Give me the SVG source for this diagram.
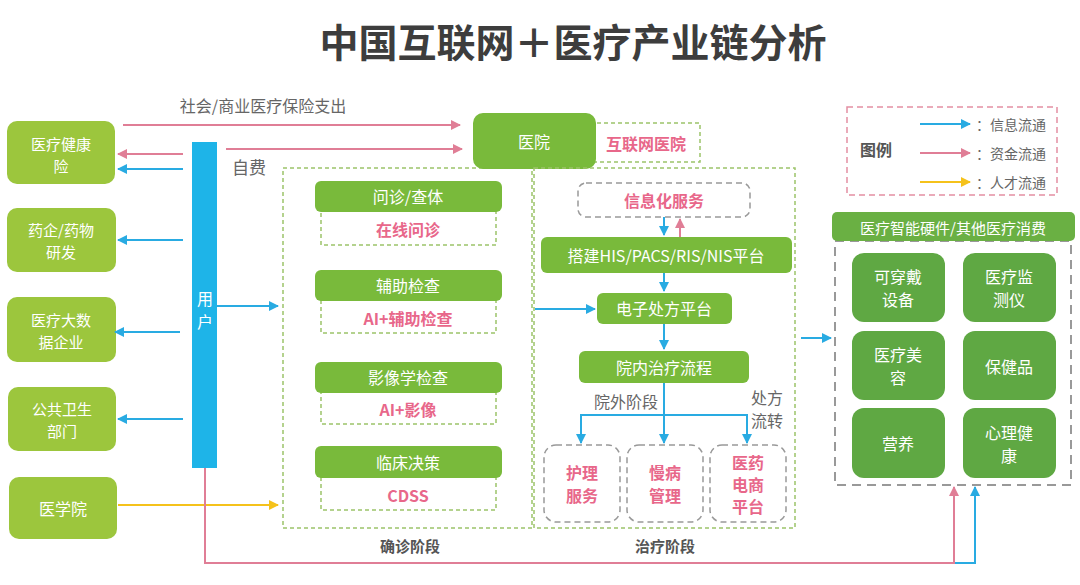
<svg xmlns="http://www.w3.org/2000/svg" width="1080" height="585" viewBox="0 0 1080 585">
<defs>
<style>
text{font-family:"Noto Sans CJK SC","Noto Sans",sans-serif;text-anchor:middle;dominant-baseline:central}
.title{font-size:39px;font-weight:bold;fill:#3d3d3d}
.lbox{fill:#9CC63D}
.mbox{fill:#79BA3B}
.rbox{fill:#5FA843}
.wt{fill:#fff;font-size:16px}
.ws{fill:#fff;font-size:15px}
.pk{fill:#E8678A;font-size:16px;font-weight:bold}
.gt{fill:#666;font-size:16px}
.gb{fill:#555;font-size:15px;font-weight:bold}
.dg{fill:none;stroke:#9CC46A;stroke-width:1.5;stroke-dasharray:4 3}
.dgray{fill:none;stroke:#999;stroke-width:2;stroke-dasharray:9 6}
.dgs{fill:none;stroke:#999;stroke-width:1.5;stroke-dasharray:6 4}
.dpink{fill:none;stroke:#E38FA3;stroke-width:1.5;stroke-dasharray:6 4}
.lb{fill:none;stroke:#29ABE2;stroke-width:2}
.lp{fill:none;stroke:#E07E96;stroke-width:2}
.ly{fill:none;stroke:#F5C21B;stroke-width:2}
</style>
<marker id="ab" viewBox="0 0 10 10" refX="9" refY="5" markerWidth="10" markerHeight="10" markerUnits="userSpaceOnUse" orient="auto"><path d="M0,0L10,5L0,10z" fill="#29ABE2"/></marker>
<marker id="ap" viewBox="0 0 10 10" refX="9" refY="5" markerWidth="10" markerHeight="10" markerUnits="userSpaceOnUse" orient="auto"><path d="M0,0L10,5L0,10z" fill="#E07E96"/></marker>
<marker id="ay" viewBox="0 0 10 10" refX="9" refY="5" markerWidth="10" markerHeight="10" markerUnits="userSpaceOnUse" orient="auto"><path d="M0,0L10,5L0,10z" fill="#F5C21B"/></marker>
</defs>
<rect width="1080" height="585" fill="#fff"/>
<text class="title" x="573" y="40">中国互联网＋医疗产业链分析</text>

<!-- left column -->
<g id="n-insurance"><rect class="lbox" x="7" y="121" width="108" height="63" rx="10"/><text class="ws" x="61" y="143">医疗健康</text><text class="ws" x="61" y="165">险</text></g>
<g id="n-pharma"><rect class="lbox" x="7" y="208" width="109" height="64" rx="10"/><text class="ws" x="61" y="229">药企/药物</text><text class="ws" x="61" y="251">研发</text></g>
<g id="n-bigdata"><rect class="lbox" x="7" y="297" width="109" height="65" rx="10"/><text class="ws" x="61" y="319">医疗大数</text><text class="ws" x="61" y="341">据企业</text></g>
<g id="n-public"><rect class="lbox" x="8" y="387" width="108" height="64" rx="10"/><text class="ws" x="62" y="408">公共卫生</text><text class="ws" x="62" y="430">部门</text></g>
<g id="n-school"><rect class="lbox" x="9" y="477" width="108" height="62" rx="10"/><text class="wt" x="63" y="508">医学院</text></g>

<g id="n-user"><rect x="192" y="142" width="25" height="326" fill="#1EB4E8"/><text class="wt" x="205" y="298">用</text><text class="wt" x="205" y="321">户</text></g>

<!-- diagnosis stage -->
<g id="n-diagnosis">
<rect class="dg" x="283" y="168" width="249" height="360"/>
<text class="gb" x="410" y="545">确诊阶段</text>
</g>
<g id="n-consult"><rect class="dg" x="321" y="210" width="175" height="35"/><rect class="mbox" x="315" y="181" width="187" height="31" rx="6"/><text class="wt" x="408" y="196">问诊/查体</text><text class="pk" x="408" y="229">在线问诊</text></g>
<g id="n-exam"><rect class="dg" x="321" y="299" width="175" height="34"/><rect class="mbox" x="315" y="270" width="187" height="31" rx="6"/><text class="wt" x="408" y="285">辅助检查</text><text class="pk" x="408" y="318">AI+辅助检查</text></g>
<g id="n-imaging"><rect class="dg" x="321" y="391" width="175" height="33"/><rect class="mbox" x="315" y="362" width="187" height="31" rx="6"/><text class="wt" x="408" y="377">影像学检查</text><text class="pk" x="408" y="409">AI+影像</text></g>
<g id="n-clinical"><rect class="dg" x="321" y="476" width="175" height="34"/><rect class="mbox" x="315" y="446" width="187" height="32" rx="6"/><text class="wt" x="408" y="462">临床决策</text><text class="pk" x="408" y="495">CDSS</text></g>

<!-- hospital -->
<g id="n-hospital"><rect class="dg" x="590" y="123" width="110" height="39"/><rect class="mbox" x="473" y="113" width="123" height="56" rx="10"/><text class="wt" x="534" y="141">医院</text><text class="pk" x="646" y="143">互联网医院</text></g>

<!-- treatment stage -->
<g id="n-treatment">
<rect class="dg" x="534" y="168" width="261" height="360"/>
<text class="gb" x="665" y="545">治疗阶段</text>
</g>
<g id="n-info"><rect class="dgs" x="578" y="183" width="172" height="34" rx="8"/><text class="pk" x="664" y="200">信息化服务</text></g>
<g id="n-his"><rect class="mbox" x="541" y="237" width="251" height="36" rx="6"/><text class="wt" x="666" y="255">搭建HIS/PACS/RIS/NIS平台</text></g>
<g id="n-erx"><rect class="mbox" x="597" y="293" width="135" height="31" rx="6"/><text class="wt" x="664" y="308">电子处方平台</text></g>
<g id="n-inhosp"><rect class="mbox" x="579" y="351" width="170" height="32" rx="6"/><text class="wt" x="664" y="367">院内治疗流程</text></g>
<g id="n-nursing"><rect class="dgs" x="544" y="445" width="76" height="77" rx="12"/><text class="pk" x="582" y="472">护理</text><text class="pk" x="582" y="495">服务</text></g>
<g id="n-chronic"><rect class="dgs" x="627" y="445" width="76" height="77" rx="12"/><text class="pk" x="665" y="472">慢病</text><text class="pk" x="665" y="495">管理</text></g>
<g id="n-ecom"><rect class="dgs" x="710" y="445" width="76" height="77" rx="12"/><text class="pk" x="748" y="462">医药</text><text class="pk" x="748" y="484">电商</text><text class="pk" x="748" y="506">平台</text></g>

<!-- legend -->
<g id="n-legend">
<rect class="dpink" x="847" y="107" width="210" height="88"/>
<text class="gb" x="876" y="149" style="font-size:16px">图例</text>
<line class="lb" x1="920" y1="124" x2="970" y2="124" marker-end="url(#ab)"/>
<line class="lp" x1="920" y1="153" x2="970" y2="153" marker-end="url(#ap)"/>
<line class="ly" x1="920" y1="182" x2="970" y2="182" marker-end="url(#ay)"/>
<text class="gt" x="1011" y="124" style="font-size:14px">：信息流通</text>
<text class="gt" x="1011" y="153" style="font-size:14px">：资金流通</text>
<text class="gt" x="1011" y="182" style="font-size:14px">：人才流通</text>
</g>

<!-- right panel -->
<g id="n-consumer">
<rect class="dgray" x="835" y="241" width="236" height="244"/>
<rect fill="#6AB043" x="832" y="212" width="243" height="29" rx="5"/>
<text class="wt" x="953" y="227" style="font-size:15px">医疗智能硬件/其他医疗消费</text>
</g>
<g id="n-wear"><rect class="rbox" x="852" y="253" width="93" height="69" rx="12"/><text class="wt" x="898" y="276">可穿戴</text><text class="wt" x="898" y="299">设备</text></g>
<g id="n-monitor"><rect class="rbox" x="963" y="253" width="93" height="69" rx="12"/><text class="wt" x="1009" y="276">医疗监</text><text class="wt" x="1009" y="299">测仪</text></g>
<g id="n-beauty"><rect class="rbox" x="852" y="331" width="93" height="69" rx="12"/><text class="wt" x="898" y="354">医疗美</text><text class="wt" x="898" y="377">容</text></g>
<g id="n-health"><rect class="rbox" x="963" y="331" width="93" height="69" rx="12"/><text class="wt" x="1009" y="366">保健品</text></g>
<g id="n-nutrition"><rect class="rbox" x="852" y="408" width="93" height="70" rx="12"/><text class="wt" x="898" y="443">营养</text></g>
<g id="n-mental"><rect class="rbox" x="963" y="408" width="93" height="70" rx="12"/><text class="wt" x="1009" y="432">心理健</text><text class="wt" x="1009" y="455">康</text></g>

<!-- connectors -->
<g id="connectors">
<text class="gt" x="263" y="105">社会/商业医疗保险支出</text>
<text class="gt" x="249" y="166" style="font-size:17px">自费</text>
<line class="lp" x1="123" y1="125" x2="460" y2="125" marker-end="url(#ap)"/>
<line class="lp" x1="226" y1="149" x2="462" y2="149" marker-end="url(#ap)"/>
<line class="lp" x1="183" y1="154" x2="118" y2="154" marker-end="url(#ap)"/>
<line class="lb" x1="183" y1="169" x2="118" y2="169" marker-end="url(#ab)"/>
<line class="lb" x1="183" y1="240" x2="118" y2="240" marker-end="url(#ab)"/>
<line class="lb" x1="180" y1="332" x2="115" y2="332" marker-end="url(#ab)"/>
<line class="lb" x1="183" y1="419" x2="118" y2="419" marker-end="url(#ab)"/>
<line class="lb" x1="217" y1="306" x2="278" y2="306" marker-end="url(#ab)"/>
<line class="ly" x1="118" y1="505" x2="278" y2="505" marker-end="url(#ay)"/>
<polyline class="lb" points="205,468 205,563 975,563 975,487" marker-end="url(#ab)"/>
<polyline class="lp" points="205,468 205,563 954,563 954,487" marker-end="url(#ap)"/>
<line class="lb" x1="664" y1="217" x2="664" y2="235" marker-end="url(#ab)"/>
<line class="lp" x1="680" y1="237" x2="680" y2="219" marker-end="url(#ap)"/>
<line class="lb" x1="664" y1="273" x2="664" y2="291" marker-end="url(#ab)"/>
<line class="lb" x1="535" y1="309" x2="595" y2="309" marker-end="url(#ab)"/>
<line class="lb" x1="664" y1="324" x2="664" y2="349" marker-end="url(#ab)"/>
<line class="lb" x1="664" y1="383" x2="664" y2="443" marker-end="url(#ab)"/>
<polyline class="lb" points="581,443 581,415 747,415 747,443" marker-end="url(#ab)"/>
<line class="lb" x1="581" y1="415" x2="581" y2="443" marker-end="url(#ab)"/>
<text class="gt" x="626" y="401">院外阶段</text>
<text class="gt" x="767" y="397">处方</text>
<text class="gt" x="767" y="420">流转</text>
<line class="lb" x1="801" y1="338" x2="831" y2="338" marker-end="url(#ab)"/>
</g>
</svg>
